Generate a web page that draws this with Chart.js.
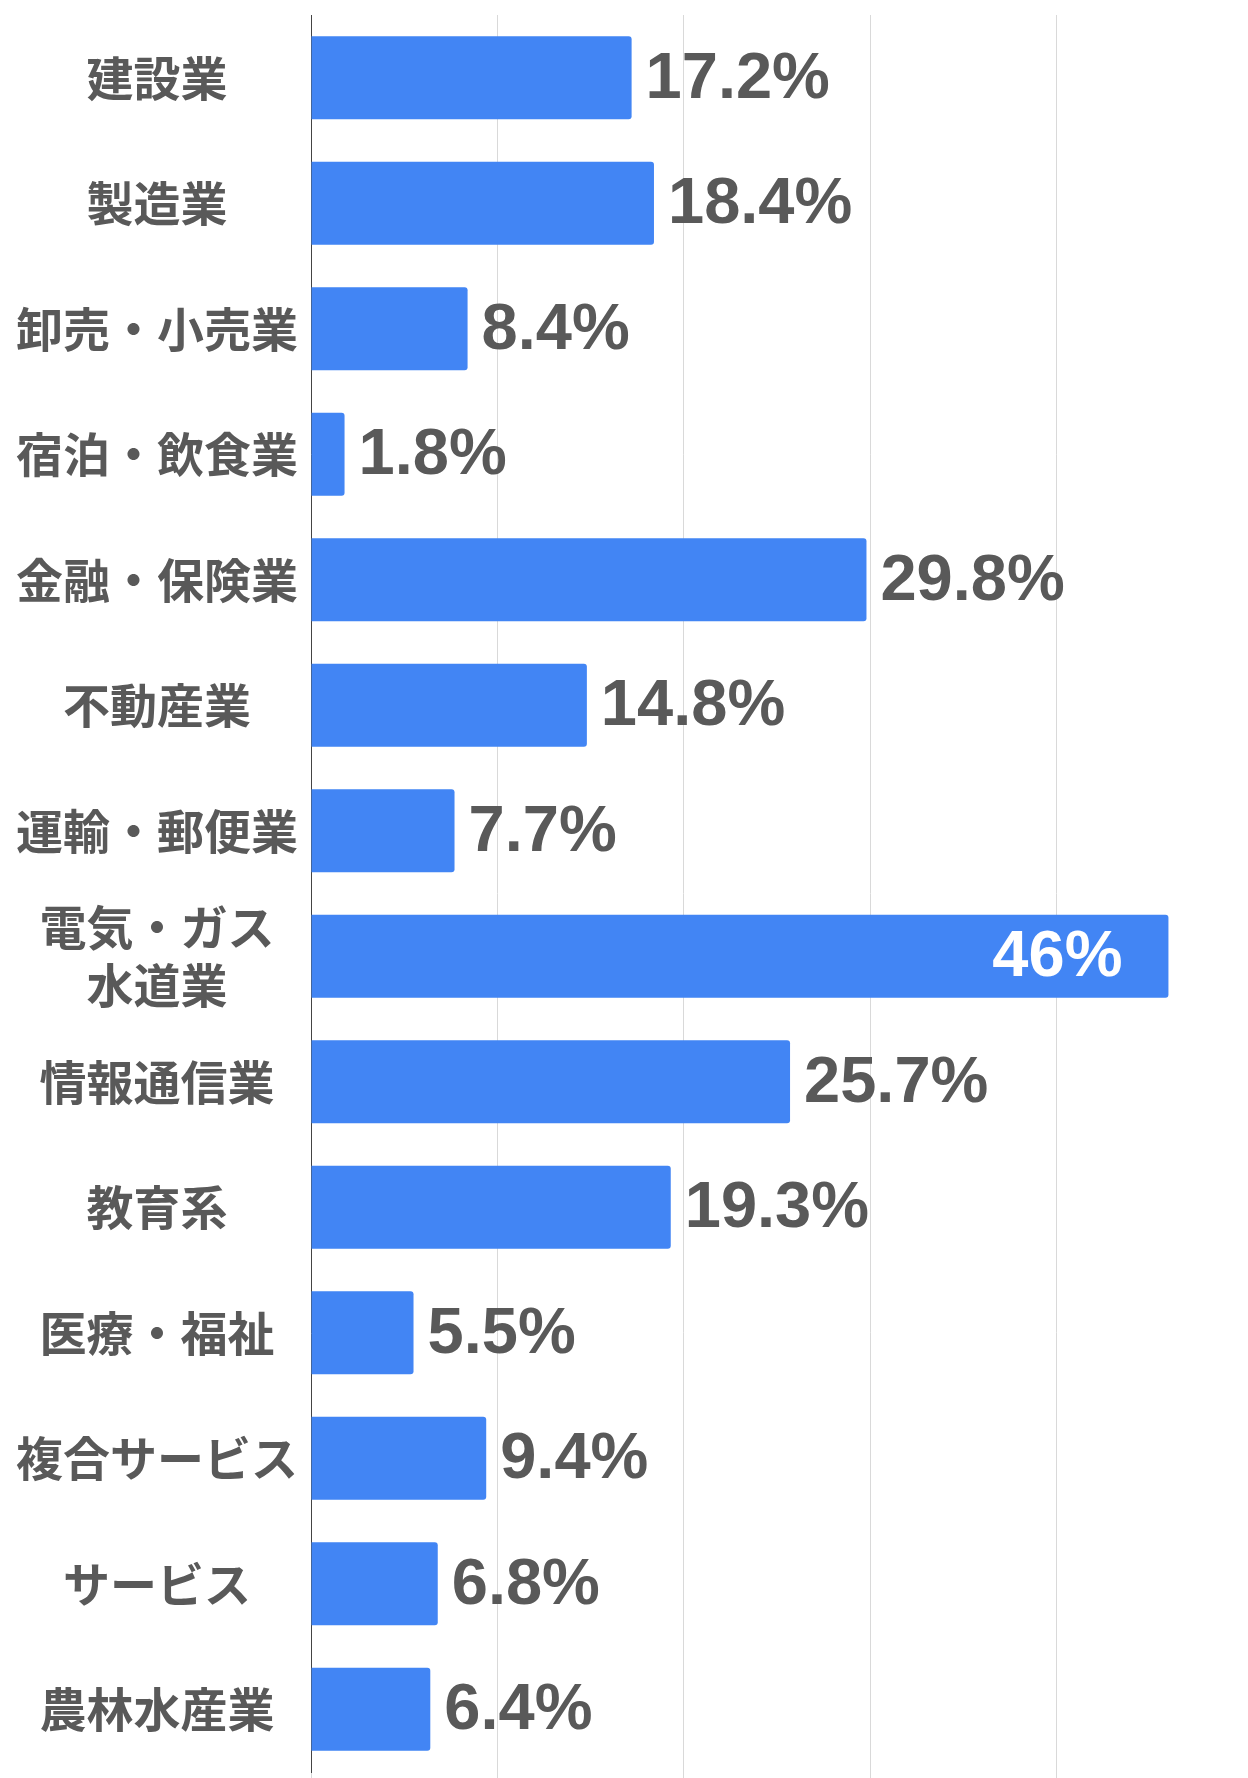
<!DOCTYPE html>
<html>
<head>
<meta charset="utf-8">
<script src="https://cdn.jsdelivr.net/npm/chart.js@4"></script>
<style>
  html, body { margin: 0; padding: 0; background: #fff; }
  #wrap { width: 1248px; height: 1778px; }
</style>
</head>
<body>
<div id="wrap"><canvas id="industryChart" width="1248" height="1778"></canvas></div>
<script>
// Industry labels (one with a line break) and share values in percent
const industries = [
    '建設業', '製造業', '卸売・小売業', '宿泊・飲食業', '金融・保険業', '不動産業',
    '運輸・郵便業', ['電気・ガス', '水道業'], '情報通信業', '教育系', '医療・福祉',
    '複合サービス', 'サービス', '農林水産業'
];
const shares = [17.2, 18.4, 8.4, 1.8, 29.8, 14.8, 7.7, 46, 25.7, 19.3, 5.5, 9.4, 6.8, 6.4];
const xTicks = [0, 10, 20, 30, 40];
const xMax = 50;

const labelGray = '#595959';
const barBlue = '#4285F4';

// Draws value labels at the bar end, or inside the bar when it would not fit
const valueLabels = {
    id: 'valueLabels',
    afterDatasetsDraw(chart) {
        const ctx = chart.ctx;
        const area = chart.chartArea;
        const meta = chart.getDatasetMeta(0);
        ctx.save();
        ctx.font = 'bold 65px "Liberation Sans", Arial, sans-serif';
        ctx.textBaseline = 'middle';
        meta.data.forEach((bar, i) => {
            const text = shares[i] + '%';
            const w = ctx.measureText(text).width;
            if (bar.x + 14 + w > area.right) {
                ctx.fillStyle = '#ffffff';
                ctx.textAlign = 'right';
                ctx.fillText(text, bar.x - 46, bar.y + 2);
            } else {
                ctx.fillStyle = labelGray;
                ctx.textAlign = 'left';
                ctx.fillText(text, bar.x + 14, bar.y + 2);
            }
        });
        ctx.restore();
    }
};

const ctx = document.getElementById('industryChart').getContext('2d');
new Chart(ctx, {
    type: 'bar',
    data: {
        labels: industries,
        datasets: [{
            data: shares,
            backgroundColor: barBlue,
            borderRadius: 3,
            categoryPercentage: 1,
            barPercentage: 0.66
        }]
    },
    options: {
        indexAxis: 'y',
        responsive: false,
        animation: false,
        layout: { padding: { top: 15, left: 0, right: 5, bottom: 0 } },
        plugins: {
            legend: { display: false },
            tooltip: { enabled: false }
        },
        scales: {
            x: {
                min: xTicks[0],
                max: xMax,
                afterBuildTicks(scale) {
                    scale.ticks = xTicks.map(v => ({ value: v }));
                },
                afterFit(scale) {
                    scale.paddingLeft = 0;
                    scale.paddingRight = 0;
                },
                ticks: { display: false },
                grid: { color: '#d9d9d9', lineWidth: 1, drawTicks: true, tickLength: 6 },
                border: { display: false }
            },
            y: {
                afterFit(scale) {
                    scale.width = 311;
                    scale.paddingTop = 0;
                    scale.paddingBottom = 0;
                },
                ticks: {
                    crossAlign: 'center',
                    padding: 5,
                    color: labelGray,
                    font: { family: '"Noto Sans CJK JP", sans-serif', size: 47, weight: 'bold', lineHeight: 1.22 }
                },
                grid: { display: false },
                border: { display: true, color: '#444444', width: 1 }
            }
        }
    },
    plugins: [valueLabels]
});
</script>
</body>
</html>
